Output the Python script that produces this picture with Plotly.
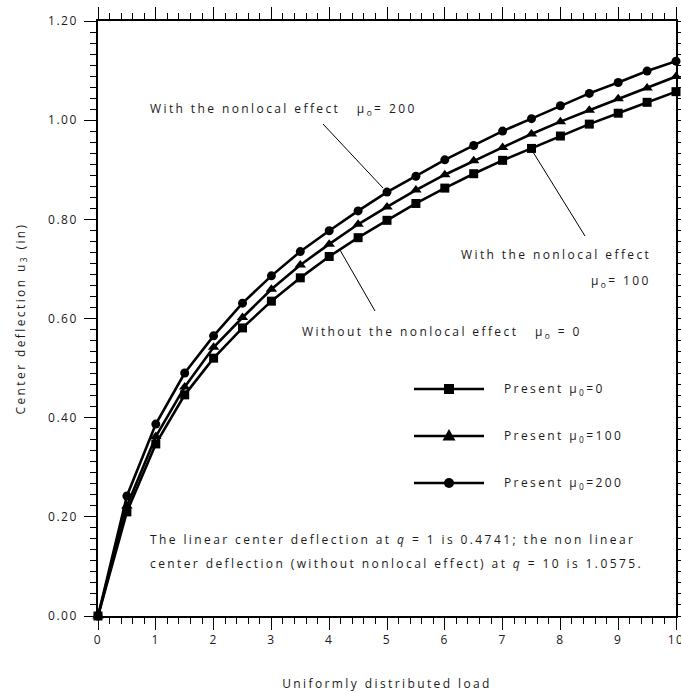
import plotly.graph_objects as go

# ---------------- data ----------------
q = [0, 0.5, 1, 1.5, 2, 2.5, 3, 3.5, 4, 4.5, 5, 5.5, 6, 6.5, 7, 7.5, 8, 8.5, 9, 9.5, 10]
mu0 = [0, 0.210, 0.347, 0.446, 0.520, 0.581, 0.635, 0.682, 0.725, 0.763, 0.798,
       0.832, 0.863, 0.892, 0.919, 0.943, 0.968, 0.992, 1.014, 1.036, 1.0575]
mu100 = [0, 0.222, 0.362, 0.462, 0.542, 0.602, 0.659, 0.708, 0.750, 0.790, 0.825,
         0.859, 0.890, 0.918, 0.945, 0.972, 0.997, 1.020, 1.043, 1.065, 1.088]
mu200 = [0, 0.242, 0.387, 0.490, 0.565, 0.631, 0.686, 0.735, 0.777, 0.817, 0.855,
         0.887, 0.920, 0.949, 0.978, 1.003, 1.029, 1.054, 1.076, 1.099, 1.119]
series_labels = ["Present μ<sub>0</sub>=0", "Present μ<sub>0</sub>=100", "Present μ<sub>0</sub>=200"]
series_symbols = ["square", "triangle-up", "circle"]
x_tick_vals = [0, 1, 2, 3, 4, 5, 6, 7, 8, 9, 10]
x_tick_labels = ["0", "1", "2", "3", "4", "5", "6", "7", "8", "9", "10"]
y_tick_vals = [0.0, 0.2, 0.4, 0.6, 0.8, 1.0, 1.2]
y_tick_labels = ["0.00", "0.20", "0.40", "0.60", "0.80", "1.00", "1.20"]

# ---------------- geometry helpers ----------------
W, H = 681, 693
L, R, T, B = 98, 676, 21, 616   # plot area in pixels


def fx(px):
    return (px - L) / (R - L)


def fy(py):
    return (B - py) / (B - T)


FONT = "Open Sans, Noto Sans, sans-serif"
TXT = "#1a1a1a"


def ls(text, sp=2.4):
    return f'<span style="letter-spacing:{sp}px">{text}</span>'


fig = go.Figure()
for ys, name, sym in zip([mu0, mu100, mu200], series_labels, series_symbols):
    fig.add_trace(go.Scatter(
        x=q, y=ys, mode="lines+markers", name=name,
        line=dict(color="black", width=2.6),
        marker=dict(symbol=sym, size=10 if sym == "triangle-up" else 9, color="black"),
        cliponaxis=False, showlegend=False,
    ))

annotations = []
shapes = []


def add_text(text, px, py, anchor="left", size=12, sp=2.4):
    annotations.append(dict(
        text=ls(text, sp), x=fx(px), y=fy(py), xref="paper", yref="paper",
        xanchor=anchor, yanchor="middle", showarrow=False,
        font=dict(family=FONT, size=size, color=TXT),
    ))


def add_line(x0, y0, x1, y1, width=1.0):
    shapes.append(dict(type="line", xref="paper", yref="paper",
                       x0=fx(x0), y0=fy(y0), x1=fx(x1), y1=fy(y1),
                       line=dict(color="black", width=width)))


# curve annotations
add_text("With the nonlocal effect &nbsp; μ<sub>o</sub>= 200", 148, 109)
add_line(323, 124, 383, 188)
add_text("With the nonlocal effect", 653, 254, anchor="right")
add_text("μ<sub>o</sub>= 100", 653, 281, anchor="right")
add_line(533, 152, 585, 236)
add_text("Without the nonlocal effect &nbsp; μ<sub>o</sub> = 0", 300, 332)
add_line(340, 250, 375, 311)

# note text
add_text("The linear center deflection at <i>q</i> = 1 is 0.4741; the non linear", 148, 539)
add_text("center deflection (without nonlocal effect) at <i>q</i> = 10 is 1.0575.", 148, 563)

# legend (drawn)
rows = [389, 436, 483]
for row, name, sym in zip(rows, series_labels, series_symbols):
    add_line(414, row, 484, row, width=2.6)
    cx = 449
    if sym == "square":
        shapes.append(dict(type="rect", xref="paper", yref="paper",
                           x0=fx(cx - 5), x1=fx(cx + 5), y0=fy(row + 5), y1=fy(row - 5),
                           fillcolor="black", line=dict(color="black", width=0)))
    elif sym == "circle":
        shapes.append(dict(type="circle", xref="paper", yref="paper",
                           x0=fx(cx - 5), x1=fx(cx + 5), y0=fy(row + 5), y1=fy(row - 5),
                           fillcolor="black", line=dict(color="black", width=0)))
    else:
        path = (f"M {fx(cx)} {fy(row - 7)} L {fx(cx - 6.5)} {fy(row + 4.5)} "
                f"L {fx(cx + 6.5)} {fy(row + 4.5)} Z")
        shapes.append(dict(type="path", xref="paper", yref="paper", path=path,
                           fillcolor="black", line=dict(color="black", width=0)))
    add_text(name, 502, row)

axis_common = dict(
    showline=True, linecolor="black", linewidth=1.6, mirror="allticks",
    ticks="outside", ticklen=12, tickwidth=1.4, tickcolor="black",
    showgrid=False, zeroline=False, ticklabeloverflow="allow",
    tickfont=dict(family=FONT, size=12, color=TXT),
)

fig.update_layout(
    width=W, height=H, template="none",
    paper_bgcolor="white", plot_bgcolor="white",
    margin=dict(l=L, r=W - R, t=T, b=H - B, autoexpand=False),
    xaxis=dict(
        range=[0, 10], tickmode="array", tickvals=x_tick_vals,
        ticktext=[ls(t, 1.5) for t in x_tick_labels],
        minor=dict(dtick=0.2, ticks="outside", ticklen=6, tickwidth=1.4, tickcolor="black", showgrid=False),
        title=dict(text=ls("Uniformly distributed load"), standoff=32,
                   font=dict(family=FONT, size=12, color=TXT)),
        **axis_common,
    ),
    yaxis=dict(
        range=[0, 1.2], tickmode="array", tickvals=y_tick_vals,
        ticktext=[ls(t, 1.5) for t in y_tick_labels], ticklabelstandoff=4,
        minor=dict(dtick=0.2 / 9, ticks="outside", ticklen=6, tickwidth=1.4, tickcolor="black", showgrid=False),
        title=dict(text=ls("Center deflection u<sub>3</sub> (in)"), standoff=20,
                   font=dict(family=FONT, size=12, color=TXT)),
        **axis_common,
    ),
    annotations=annotations,
    shapes=shapes,
    showlegend=False,
)

fig.write_html("out.html")
